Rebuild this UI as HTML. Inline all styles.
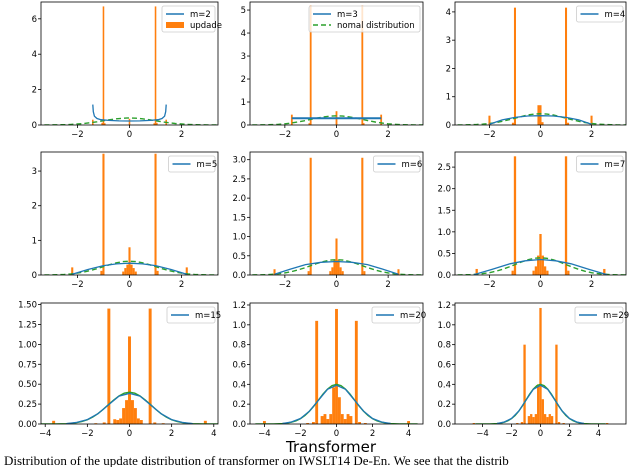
<!DOCTYPE html>
<html><head><meta charset="utf-8"><style>
body{margin:0;background:#fff;}
svg{display:block;font-family:"DejaVu Sans","Liberation Sans",sans-serif;}
</style></head><body>
<svg id="fig" width="640" height="467" viewBox="0 0 640 467">
<text x="331" y="452" font-size="15" text-anchor="middle" fill="#000">Transformer</text>
<text x="4" y="465" font-size="13" font-family="Liberation Serif, serif" fill="#000">Distribution of the update distribution of transformer on IWSLT14 De-En. We see that the distrib</text>
</svg>
<script>
// ---- data ----
const panelNames = ["m=2","m=3","m=4","m=5","m=6","m=7","m=15","m=20","m=29"];
const yMax = [6.95,5.35,4.35,3.55,3.2,2.85,1.52,1.22,1.22];
const xRange = [3.4,3.35,3.35,3.4,3.35,3.35,4.2,4.8,5.9];
const yTicks = [[0,2,4,6],[0,1,2,3,4,5],[0,1,2,3,4],[0,1,2,3],[0,0.5,1,1.5,2,2.5,3],[0,0.5,1,1.5,2,2.5],[0,0.25,0.5,0.75,1,1.25,1.5],[0,0.2,0.4,0.6,0.8,1,1.2],[0,0.2,0.4,0.6,0.8,1,1.2]];
const yTickLabels = [["0","2","4","6"],["0","1","2","3","4","5"],["0","1","2","3","4"],["0","1","2","3"],["0.0","0.5","1.0","1.5","2.0","2.5","3.0"],["0.0","0.5","1.0","1.5","2.0","2.5"],["0.00","0.25","0.50","0.75","1.00","1.25","1.50"],["0.0","0.2","0.4","0.6","0.8","1.0","1.2"],["0.0","0.2","0.4","0.6","0.8","1.0","1.2"]];
const xTicks = [[-2,0,2],[-2,0,2],[-2,0,2],[-2,0,2],[-2,0,2],[-2,0,2],[-4,-2,0,2,4],[-4,-2,0,2,4],[-4,-2,0,2,4]];
const binWidth = [0.06,0.07,0.08,0.08,0.08,0.09,0.14,0.16,0.16];
const binX = [
 [-1.41,-1.05,-1,-0.95,0,0.95,1,1.05,1.41],
 [-1.73,-1.05,-1,0,1,1.05,1.73],
 [-2,-1.08,-1,-0.08,0,0.08,1,1.08,2],
 [-2.2,-1.08,-1,-0.24,-0.16,-0.08,0,0.08,0.16,0.24,1,1.08,2.2],
 [-2.4,-1.08,-1,-0.24,-0.16,-0.08,0,0.08,0.16,0.24,1,1.08,2.4],
 [-2.5,-1.09,-1,-0.27,-0.18,-0.09,0,0.09,0.18,0.27,1,1.09,2.5],
 [-3.6,-1.6,-1.2,-0.98,-0.7,-0.56,-0.42,-0.28,-0.14,0,0.14,0.28,0.42,0.56,0.98,1.2,1.6,3.6],
 [-4,-1.6,-1.28,-1.1,-0.8,-0.64,-0.48,-0.32,-0.16,0,0.16,0.32,0.48,0.64,0.8,1.1,1.28,1.6,4],
 [-4.6,-1.6,-1.28,-1.1,-0.8,-0.64,-0.48,-0.32,-0.16,0,0.16,0.32,0.48,0.64,0.8,1.1,1.28,1.6,4.6]
];
const binH = [
 [0.3,0.12,6.7,0.1,0.35,0.1,6.7,0.12,0.3],
 [0.45,0.08,5.2,0.6,5.2,0.08,0.45],
 [0.33,0.08,4.15,0.7,0.7,0.1,4.15,0.08,0.33],
 [0.22,0.12,3.5,0.1,0.2,0.3,0.8,0.3,0.2,0.1,3.5,0.12,0.22],
 [0.15,0.1,3.05,0.1,0.2,0.4,0.95,0.4,0.2,0.1,3.05,0.1,0.15],
 [0.14,0.1,2.75,0.1,0.2,0.45,0.95,0.45,0.2,0.1,2.75,0.1,0.14],
 [0.04,0.01,0.02,1.45,0.06,0.05,0.07,0.2,0.3,1.1,0.3,0.2,0.07,0.05,1.45,0.02,0.01,0.04],
 [0.03,0.01,0.02,1.04,0.08,0.1,0.05,0.1,0.37,1.16,0.27,0.1,0.05,0.1,0.08,1.04,0.02,0.01,0.03],
 [0.01,0.01,0.02,0.8,0.08,0.1,0.07,0.1,0.4,1.17,0.25,0.1,0.07,0.1,0.08,0.8,0.02,0.01,0.01]
];
const blueX = [
 [-1.41,-1.39,-1.35,-1.25,-1.1,-0.8,-0.4,0,0.4,0.8,1.1,1.25,1.35,1.39,1.41],
 [-1.73,1.73],
 [-2,-1.5,-1,-0.5,0,0.5,1,1.5,2],
 [-2.2,-1.6,-1,-0.5,0,0.5,1,1.6,2.2],
 [-2.4,-1.8,-1.2,-0.6,0,0.6,1.2,1.8,2.4],
 [-2.6,-1.9,-1.2,-0.6,0,0.6,1.2,1.9,2.6],
 [-3,-2.5,-2,-1.5,-1,-0.5,0,0.5,1,1.5,2,2.5,3],
 [-3,-2.5,-2,-1.5,-1,-0.5,0,0.5,1,1.5,2,2.5,3],
 [-3,-2.5,-2,-1.5,-1,-0.5,0,0.5,1,1.5,2,2.5,3]
];
const blueY = [
 [1.15,0.75,0.5,0.37,0.3,0.26,0.23,0.225,0.23,0.26,0.3,0.37,0.5,0.75,1.15],
 [0.29,0.29],
 [0.03,0.18,0.27,0.32,0.33,0.32,0.27,0.18,0.03],
 [0.02,0.16,0.27,0.32,0.34,0.32,0.27,0.16,0.02],
 [0.02,0.15,0.27,0.33,0.35,0.33,0.27,0.15,0.02],
 [0.01,0.13,0.26,0.33,0.36,0.33,0.26,0.13,0.01],
 [0.005,0.02,0.055,0.13,0.24,0.35,0.385,0.35,0.24,0.13,0.055,0.02,0.005],
 [0.005,0.02,0.055,0.13,0.24,0.35,0.39,0.35,0.24,0.13,0.055,0.02,0.005],
 [0.005,0.02,0.055,0.13,0.24,0.35,0.39,0.35,0.24,0.13,0.055,0.02,0.005]
];
const normX = [-4.5,-4,-3.5,-3,-2.75,-2.5,-2.25,-2,-1.75,-1.5,-1.25,-1,-0.75,-0.5,-0.25,0,0.25,0.5,0.75,1,1.25,1.5,1.75,2,2.25,2.5,2.75,3,3.5,4,4.5];
const normY = [0,0,0.001,0.004,0.009,0.018,0.032,0.054,0.086,0.13,0.183,0.242,0.301,0.352,0.387,0.399,0.387,0.352,0.301,0.242,0.183,0.13,0.086,0.054,0.032,0.018,0.009,0.004,0.001,0,0];

// ---- layout ----
const colX = [[41,218],[250,423],[455,626]];
const rowY = [[2,125],[152,275],[303,424]];
const NS = "http://www.w3.org/2000/svg";
const svg = document.getElementById('fig');
function mk(tag, attrs, parent){const e=document.createElementNS(NS,tag);for(const k in attrs)e.setAttribute(k,attrs[k]);(parent||svg).appendChild(e);return e;}

for(let p=0;p<9;p++){
  const [x0,x1]=colX[p%3], [y0,y1]=rowY[Math.floor(p/3)];
  const g=mk('g',{});
  
  
  const xs=v=>x0+(v+xRange[p])/(2*xRange[p])*(x1-x0);
  const ys=v=>y1-v/yMax[p]*(y1-y0);
  const clipId='c'+p;
  const cp=mk('clipPath',{id:clipId},g);mk('rect',{x:x0,y:y0,width:x1-x0,height:y1-y0},cp);
  const plot=mk('g',{'clip-path':'url(#'+clipId+')'},g);
  // bars
  for(let i=0;i<binX[p].length;i++){
    const bx=xs(binX[p][i]-binWidth[p]/2), bw=xs(binX[p][i]+binWidth[p]/2)-bx;
    const r=mk('rect',{x:bx,y:ys(binH[p][i]),width:Math.max(bw,1.2),height:y1-ys(binH[p][i]),fill:'#ff7f0e'},plot);
    
    
  }
  // normal curve
  let d='';normX.forEach((v,i)=>{d+=(i?'L':'M')+xs(v).toFixed(1)+','+ys(normY[i]).toFixed(1);});
  const row3=p>=6;
  const nc=mk('path',{d:d,fill:'none',stroke:'#2ca02c','stroke-width':1.4,'stroke-dasharray':row3?'none':'5,3'},plot);
  
  
  // blue curve
  d='';blueX[p].forEach((v,i)=>{d+=(i?'L':'M')+xs(v).toFixed(1)+','+ys(blueY[p][i]).toFixed(1);});
  const bc=mk('path',{d:d,fill:'none',stroke:'#1f77b4','stroke-width':p==1?2:1.3},plot);
  
  
  // frame
  mk('rect',{x:x0,y:y0,width:x1-x0,height:y1-y0,fill:'none',stroke:'#000','stroke-width':0.8},g);
  // y ticks
  yTicks[p].forEach((v,i)=>{const y=ys(v);mk('line',{x1:x0-3,x2:x0,y1:y,y2:y,stroke:'#000','stroke-width':0.8},g);
    const t=mk('text',{x:x0-4,y:y+3,'font-size':8.5,'text-anchor':'end'},g);t.textContent=yTickLabels[p][i];
    
    });
  xTicks[p].forEach(v=>{const x=xs(v);mk('line',{x1:x,x2:x,y1:y1,y2:y1+3,stroke:'#000','stroke-width':0.8},g);
    const t=mk('text',{x:x,y:y1+12,'font-size':8.5,'text-anchor':'middle'},g);t.textContent=(v<0?'\u2212'+(-v):''+v);
    
    });
  // legend
  const lg=mk('g',{},g);
  
  
  let items=[[panelNames[p],'blue']];
  if(p==0)items.push(['updade','bar']);
  if(p==1)items.push(['nomal distribution','green']);
  const lw=p==1?111:(p==0?53:42+panelNames[p].length*1.5);
  const lh=items.length==2?26:16;
  const lx=x1-lw-3, ly=y0+4;
  mk('rect',{x:lx,y:ly,width:lw,height:lh,rx:2,fill:'#fff','fill-opacity':0.8,stroke:'#ccc','stroke-width':0.8},lg);
  items.forEach((it,i)=>{const yy=ly+8+i*11;
    if(it[1]=='blue')mk('line',{x1:lx+4,x2:lx+22,y1:yy,y2:yy,stroke:'#1f77b4','stroke-width':1.5},lg);
    if(it[1]=='green')mk('line',{x1:lx+4,x2:lx+22,y1:yy,y2:yy,stroke:'#2ca02c','stroke-width':1.5,'stroke-dasharray':'5,3'},lg);
    if(it[1]=='bar')mk('rect',{x:lx+4,y:yy-3,width:18,height:6,fill:'#ff7f0e'},lg);
    const t=mk('text',{x:lx+28,y:yy+3,'font-size':8.5},lg);t.textContent=it[0];
    
    });
}
</script>
</body></html>
